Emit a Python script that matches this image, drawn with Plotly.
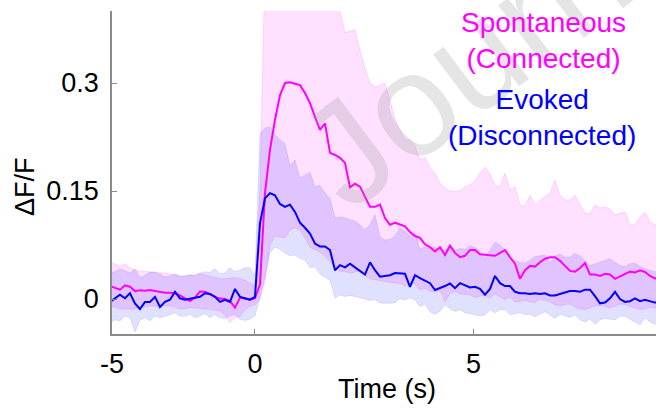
import numpy as np
import plotly.graph_objects as go

# ---------------- data ----------------
# sample grid: uniform steps on the displayed time axis, first sample index -29
time_step = 5.0 / 43.7
first_index = -29

evoked_mean = [
    -0.004, 0.001, 0.006, 0.001, 0.008, -0.006, -0.014, -0.004, -0.004, 0.003,
    -0.011, -0.004, -0.001, 0.010, 0.001, -0.001, 0.000, 0.002, 0.003, 0.008,
    0.007, 0.003, -0.004, -0.001, -0.004, 0.014, 0.003, 0.001, -0.001, 0.003,
    0.105, 0.140, 0.147, 0.144, 0.132, 0.128, 0.131, 0.121, 0.106, 0.099,
    0.091, 0.077, 0.073, 0.073, 0.068, 0.040, 0.047, 0.044, 0.049, 0.044,
    0.039, 0.034, 0.051, 0.040, 0.031, 0.032, 0.033, 0.036, 0.036, 0.035,
    0.017, 0.033, 0.029, 0.025, 0.022, 0.0125, 0.015, 0.018, 0.0215, 0.015,
    0.022, 0.019, 0.016, 0.017, 0.014, 0.006, 0.014, 0.032, 0.022, 0.018,
    0.018, 0.010, 0.008, 0.008, 0.007, 0.008, 0.007, 0.008, 0.005, 0.005,
    0.007, 0.008, 0.011, 0.011, 0.010, 0.013, 0.013, 0.004, -0.006, -0.005,
    0.001, 0.010, 0.000, -0.004, -0.003, 0.001, -0.003, -0.001, -0.003, -0.005,
    -0.005,
]
evoked_lo = [
    -0.033, -0.029, -0.0306, -0.0236, -0.026, -0.046, -0.029, -0.026, -0.0306, -0.0236,
    -0.026, -0.024, -0.022, -0.019, -0.024, -0.024, -0.021, -0.026, -0.0236, -0.020,
    -0.026, -0.022, -0.026, -0.027, -0.0236, -0.022, -0.028, -0.030, -0.028, -0.0236,
    0.003, 0.0305, 0.064, 0.072, 0.069, 0.064, 0.060, 0.061, 0.0565, 0.054,
    0.044, 0.044, 0.035, 0.030, 0.026, 0.0014, 0.0056, 0.0035, 0.005, 0.0035,
    0.002, 0.000, -0.002, -0.0007, -0.0056, -0.006, -0.006, -0.0056, 0.0007, -0.0014,
    0.0014, -0.0014, -0.0107, -0.007, -0.018, -0.021, -0.017, -0.008, -0.014, -0.0174,
    -0.015, -0.019, -0.021, -0.022, -0.0236, -0.022, -0.015, -0.019, -0.015, -0.015,
    -0.022, -0.021, -0.019, -0.022, -0.021, -0.0246, -0.021, -0.0176, -0.022, -0.027,
    -0.021, -0.0236, -0.0257, -0.022, -0.029, -0.032, -0.028, -0.035, -0.029, -0.027,
    -0.028, -0.029, -0.0236, -0.024, -0.028, -0.032, -0.036, -0.026, -0.032, -0.035,
    -0.033,
]
evoked_hi = [
    0.0365, 0.038, 0.042, 0.039, 0.036, 0.042, 0.0296, 0.033, 0.037, 0.038,
    0.034, 0.0305, 0.032, 0.035, 0.031, 0.032, 0.034, 0.032, 0.036, 0.038,
    0.037, 0.042, 0.035, 0.036, 0.0435, 0.038, 0.040, 0.0435, 0.0435, 0.032,
    0.230, 0.2375, 0.239, 0.228, 0.221, 0.216, 0.185, 0.193, 0.168, 0.172,
    0.176, 0.156, 0.158, 0.147, 0.140, 0.1125, 0.114, 0.113, 0.110, 0.108,
    0.103, 0.096, 0.103, 0.117, 0.086, 0.082, 0.083, 0.0875, 0.099, 0.094,
    0.0875, 0.092, 0.069, 0.0726, 0.071, 0.072, 0.069, 0.068, 0.074, 0.068,
    0.070, 0.069, 0.074, 0.0715, 0.067, 0.056, 0.068, 0.079, 0.075, 0.068,
    0.057, 0.053, 0.051, 0.050, 0.054, 0.059, 0.060, 0.061, 0.050, 0.060,
    0.0625, 0.058, 0.058, 0.0635, 0.060, 0.053, 0.0465, 0.049, 0.051, 0.053,
    0.056, 0.051, 0.0465, 0.045, 0.049, 0.050, 0.045, 0.042, 0.040, 0.038,
    0.0375,
]
spont_mean = [
    0.018, 0.015, 0.013, 0.019, 0.017, 0.011, 0.012, 0.0115, 0.0125, 0.011,
    0.0097, 0.0088, 0.0088, 0.008, 0.005, 0.0014, -0.003, 0.002, 0.0104, 0.010,
    0.006, 0.003, 0.0006, 0.000, -0.003, -0.012, 0.002, 0.000, -0.001, 0.001,
    0.020, 0.147, 0.207, 0.249, 0.283, 0.300, 0.301, 0.299, 0.297, 0.286,
    0.272, 0.253, 0.235, 0.244, 0.203, 0.200, 0.196, 0.189, 0.155, 0.160,
    0.156, 0.142, 0.128, 0.128, 0.131, 0.1125, 0.103, 0.106, 0.103, 0.101,
    0.093, 0.0875, 0.085, 0.076, 0.072, 0.066, 0.072, 0.061, 0.074, 0.064,
    0.058, 0.060, 0.068, 0.068, 0.062, 0.061, 0.060, 0.060, 0.064, 0.068,
    0.058, 0.049, 0.028, 0.040, 0.046, 0.045, 0.051, 0.056, 0.058, 0.058,
    0.053, 0.046, 0.039, 0.038, 0.043, 0.050, 0.034, 0.034, 0.032, 0.035,
    0.034, 0.028, 0.031, 0.035, 0.038, 0.037, 0.040, 0.0375, 0.032, 0.0285,
    0.028,
]
spont_lo = [
    -0.0097, -0.011, -0.014, -0.014, -0.014, -0.014, -0.0125, -0.011, -0.0097, -0.0097,
    -0.0097, -0.0097, -0.0097, -0.011, -0.014, -0.0125, -0.012, -0.012, -0.0125, -0.014,
    -0.014, -0.015, -0.017, -0.022, -0.033, -0.026, -0.024, -0.015, -0.0097, -0.008,
    -0.0014, 0.026, 0.075, 0.0875, 0.086, 0.085, 0.096, 0.099, 0.096, 0.085,
    0.072, 0.069, 0.065, 0.060, 0.051, 0.043, 0.039, 0.038, 0.036, 0.0375,
    0.040, 0.032, 0.028, 0.026, 0.025, 0.024, 0.023, 0.022, 0.022, 0.018,
    0.022, 0.021, 0.0125, 0.015, 0.011, 0.0097, 0.0125, -0.004, 0.008, 0.011,
    0.007, 0.007, 0.006, 0.002, 0.004, 0.0056, 0.0014, 0.008, 0.003, -0.0007,
    0.003, -0.004, -0.0035, -0.0014, -0.004, -0.005, 0.000, -0.0014, -0.004, -0.008,
    -0.0097, -0.0076, -0.007, -0.011, -0.0135, -0.0146, -0.012, -0.0097, -0.009, -0.0097,
    -0.0125, -0.010, -0.007, -0.0076, -0.0097, -0.0125, -0.0146, -0.014, -0.011, -0.0125,
    -0.013,
]
spont_hi = [
    0.051, 0.049, 0.046, 0.049, 0.043, 0.040, 0.039, 0.038, 0.038, 0.037,
    0.036, 0.036, 0.035, 0.033, 0.032, 0.031, 0.033, 0.033, 0.035, 0.033,
    0.031, 0.030, 0.028, 0.028, 0.029, 0.030, 0.028, 0.026, 0.022, 0.018,
    0.150, 0.470, 0.550, 0.600, 0.620, 0.630, 0.620, 0.600, 0.580, 0.560,
    0.540, 0.520, 0.500, 0.470, 0.450, 0.420, 0.400, 0.370, 0.372, 0.374,
    0.345, 0.320, 0.300, 0.295, 0.297, 0.300, 0.276, 0.249, 0.235, 0.221,
    0.221, 0.2125, 0.193, 0.197, 0.183, 0.175, 0.161, 0.154, 0.150, 0.149,
    0.151, 0.156, 0.158, 0.164, 0.175, 0.183, 0.174, 0.158, 0.156, 0.175,
    0.151, 0.156, 0.131, 0.128, 0.144, 0.131, 0.1375, 0.142, 0.147, 0.165,
    0.144, 0.1375, 0.1375, 0.144, 0.131, 0.119, 0.119, 0.131, 0.126, 0.128,
    0.125, 0.117, 0.119, 0.121, 0.103, 0.103, 0.114, 0.121, 0.107, 0.103,
    0.103,
]

x_tick_positions = [-3.272, 0.0, 5.0]
x_tick_labels = ["-5", "0", "5"]
y_tick_values = [0.0, 0.15, 0.3]
y_tick_labels = ["0", "0.15", "0.3"]

series_names = ["Spontaneous<br>(Connected)", "Evoked<br>(Disconnected)"]

# ---------------- figure ----------------
n = len(evoked_mean)
t = list((np.arange(n) + first_index) * time_step)

FONT = "Liberation Sans, Arial, sans-serif"
W, H = 656, 412
L, R, T, B = 112, 0, 11, 78
pw, ph = W - L - R, H - T - B


def px(xp):
    return (xp - L) / pw


def py(yp):
    return (H - B - yp) / ph


fig = go.Figure()

def band(lo, hi, fillc, linec):
    fig.add_trace(go.Scatter(
        x=t + t[::-1], y=list(hi) + list(lo)[::-1],
        fill="toself", fillcolor=fillc, mode="lines",
        line=dict(color=linec, width=0.8), hoverinfo="skip", showlegend=False))

band(spont_lo, spont_hi, "rgba(255,0,255,0.12)", "rgba(255,0,255,0.18)")
band(evoked_lo, evoked_hi, "rgba(0,0,255,0.12)", "rgba(0,0,255,0.12)")

fig.add_trace(go.Scatter(x=t, y=spont_mean, mode="lines",
                         line=dict(color="#FF00FF", width=2), showlegend=False))
fig.add_trace(go.Scatter(x=t, y=evoked_mean, mode="lines",
                         line=dict(color="#0000FF", width=2), showlegend=False))

axis_col = "#8a8a8a"
fig.update_xaxes(range=[-3.272, 9.176], showline=True, linecolor=axis_col, linewidth=1.5,
                 showgrid=False, zeroline=False, ticks="inside", ticklen=5,
                 tickcolor=axis_col, tickwidth=1, tickvals=x_tick_positions,
                 ticktext=x_tick_labels, tickfont=dict(family=FONT, size=27, color="black"),
                 ticklabelstandoff=5)
fig.update_yaxes(range=[-0.0486, 0.4], showline=True, linecolor=axis_col, linewidth=1.5,
                 showgrid=False, zeroline=False, ticks="inside", ticklen=5,
                 tickcolor=axis_col, tickwidth=1, tickvals=y_tick_values,
                 ticktext=y_tick_labels, tickfont=dict(family=FONT, size=27, color="black"),
                 ticklabelstandoff=6)

ann = []
# watermark (cut by the top edge, as in the reference)
ann.append(dict(text="Journal", x=px(509), y=py(30), xref="paper", yref="paper",
                showarrow=False, textangle=-37, xanchor="center", yanchor="middle",
                font=dict(family=FONT, size=146, color="rgba(150,150,150,0.25)")))
# legend texts
ann.append(dict(text=series_names[0], x=px(543), y=py(40), xref="paper", yref="paper",
                showarrow=False, xanchor="center", yanchor="middle", align="center",
                font=dict(family=FONT, size=28, color="#FF00FF")))
ann.append(dict(text=series_names[1], x=px(542), y=py(117), xref="paper", yref="paper",
                showarrow=False, xanchor="center", yanchor="middle", align="center",
                font=dict(family=FONT, size=28, color="#0000FF")))
# axis titles
ann.append(dict(text="Time (s)", x=px(387), y=py(389), xref="paper", yref="paper",
                showarrow=False, xanchor="center", yanchor="middle",
                font=dict(family=FONT, size=27, color="black")))
ann.append(dict(text="ΔF/F", x=px(25), y=py(187), xref="paper", yref="paper",
                showarrow=False, xanchor="center", yanchor="middle", textangle=-90,
                font=dict(family=FONT, size=27, color="black")))

fig.update_layout(width=W, height=H, margin=dict(l=L, r=R, t=T, b=B, pad=0),
                  paper_bgcolor="white", plot_bgcolor="white", annotations=ann,
                  showlegend=False)

fig.write_html("out.html")
